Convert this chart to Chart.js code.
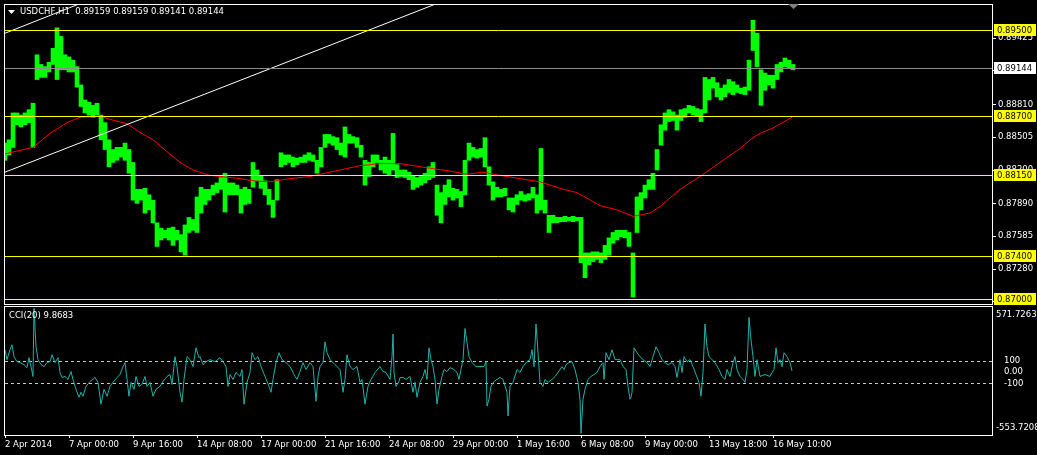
<!DOCTYPE html>
<html>
<head>
<meta charset="utf-8">
<script src="https://cdn.jsdelivr.net/npm/chart.js@4.4.0/dist/chart.umd.min.js"></script>
<style>
  html, body { margin: 0; padding: 0; background: #000; }
  #wrap { position: relative; width: 1037px; height: 455px; background: #000; overflow: hidden; }
  canvas { position: absolute; left: 0; }
  #price { top: 0; }
  #cci { top: 305px; }
</style>
</head>
<body>
<div id="wrap">
  <canvas id="price" width="1037" height="305"></canvas>
  <canvas id="cci" width="1037" height="150"></canvas>
</div>
<script>
// USDCHF H1 with MA and CCI(20) sub window, MetaTrader look
const symbolTitle = 'USDCHF,H1  0.89159 0.89159 0.89141 0.89144';
const cciTitle = 'CCI(20) 9.8683';

// hourly bars, one value pair read every 4 bars
const BAR_STEP = 4;
const priceHigh = [
  .8845,.8848,.8873,.8873,.8871,.8873,.8876,.8882,.8927,.8918,.8916,.8920,.8933,.8952,.8944,.8927,.8925,.8922,.8916,.8899,
  .8885,.8883,.8880,.8882,.8871,.8864,.8848,.8839,.8841,.8841,.8845,.8839,.8827,.8802,.8802,.8803,.8797,.8792,.8771,.8766,
  .8764,.8766,.8767,.8764,.8760,.8769,.8776,.8774,.8795,.8804,.8802,.8802,.8806,.8808,.8813,.8817,.8808,.8808,.8806,.8802,
  .8804,.8802,.8827,.8820,.8815,.8810,.8802,.8792,.8811,.8836,.8834,.8834,.8832,.8831,.8832,.8834,.8836,.8834,.8829,.8841,
  .8853,.8853,.8851,.8850,.8845,.8860,.8853,.8851,.8850,.8843,.8829,.8827,.8834,.8834,.8829,.8832,.8829,.8854,.8825,.8820,
  .8820,.8818,.8815,.8813,.8814,.8817,.8823,.8827,.8806,.8799,.8806,.8811,.8803,.8802,.8800,.8829,.8845,.8841,.8839,.8840,
  .8850,.8823,.8809,.8804,.8802,.8803,.8794,.8794,.8797,.8800,.8797,.8798,.8804,.8797,.8840,.8792,.8778,.8778,.8776,.8776,
  .8777,.8776,.8777,.8776,.8776,.8743,.8743,.8744,.8744,.8743,.8750,.8757,.8762,.8764,.8764,.8764,.8762,.8743,.8795,.8799,
  .8806,.8811,.8817,.8839,.8862,.8873,.8876,.8874,.8871,.8876,.8877,.8880,.8879,.8877,.8876,.8906,.8904,.8906,.8901,.8896,
  .8899,.8904,.8902,.8899,.8896,.8897,.8922,.8959,.8947,.8913,.8910,.8908,.8908,.8918,.8920,.8924,.8922,.8918
];
const priceLow = [
  .8829,.8834,.8841,.8862,.8860,.8862,.8864,.8841,.8904,.8906,.8906,.8911,.8918,.8904,.8913,.8913,.8911,.8911,.8897,.8879,
  .8873,.8871,.8869,.8871,.8848,.8839,.8823,.8827,.8829,.8832,.8829,.8817,.8792,.8789,.8792,.8780,.8783,.8771,.8749,.8755,
  .8757,.8755,.8750,.8755,.8744,.8741,.8762,.8764,.8762,.8780,.8788,.8792,.8797,.8799,.8802,.8781,.8797,.8797,.8797,.8780,
  .8788,.8789,.8804,.8810,.8803,.8797,.8788,.8776,.8792,.8823,.8825,.8827,.8823,.8825,.8827,.8827,.8829,.8828,.8817,.8823,
  .8841,.8845,.8843,.8839,.8834,.8832,.8845,.8845,.8841,.8832,.8806,.8814,.8823,.8827,.8820,.8817,.8815,.8820,.8813,.8814,
  .8813,.8811,.8802,.8804,.8806,.8808,.8811,.8813,.8778,.8771,.8788,.8795,.8792,.8794,.8786,.8797,.8829,.8832,.8831,.8832,
  .8823,.8806,.8792,.8795,.8795,.8796,.8783,.8781,.8788,.8792,.8791,.8792,.8794,.8780,.8783,.8780,.8762,.8771,.8771,.8772,
  .8772,.8773,.8772,.8773,.8734,.8720,.8732,.8735,.8737,.8734,.8737,.8741,.8752,.8755,.8758,.8757,.8749,.8702,.8762,.8783,
  .8794,.8802,.8802,.8820,.8843,.8857,.8865,.8866,.8857,.8866,.8869,.8873,.8871,.8870,.8865,.8873,.8885,.8896,.8888,.8885,
  .8888,.8892,.8890,.8892,.8891,.8890,.8894,.8931,.8916,.8880,.8894,.8899,.8896,.8904,.8911,.8916,.8915,.8913
];

// moving average (red)
const maBar = [0,28,45,62,75,95,105,122,135,148,162,175,188,205,235,248,265,285,305,315,335,355,375,395,415,445,462,478,495,515,
  535,555,572,595,612,628,645,655,675,695,715,735,748,755,768,787];
const maValue = [.8835,.8841,.8854,.8864,.8869,.8870,.8867,.8863,.8855,.8848,.8837,.8827,.8820,.8815,.8812,.8810,.8809,.8812,.8814,.8816,
  .8820,.8824,.8826,.8826,.8823,.8819,.8816,.8818,.8815,.8812,.8809,.8803,.8799,.8787,.8783,.8777,.8780,.8786,.8802,.8814,
  .8827,.8840,.8850,.8854,.8859,.8869];

// white channel lines: [bar, price] end points
const channelUpper = [[0, 0.8947], [90, 0.8980]];
const channelLower = [[0, 0.8818], [440, 0.89775]];

const levels = [0.8950, 0.8870, 0.8815, 0.8740, 0.8700];
const lastPrice = 0.89144;
const priceRange = [0.86956, 0.89732];
const priceTicks = [0.89425, 0.89120, 0.88810, 0.88505, 0.88200, 0.87890, 0.87585, 0.87280, 0.86975];
const barsOnScreen = 987;

const timeTicks = [0, 64, 128, 192, 256, 320, 384, 448, 512, 576, 640, 704, 768];
const timeLabels = ['2 Apr 2014', '7 Apr 00:00', '9 Apr 16:00', '14 Apr 08:00', '17 Apr 00:00', '21 Apr 16:00',
  '24 Apr 08:00', '29 Apr 00:00', '1 May 16:00', '6 May 08:00', '9 May 00:00', '13 May 18:00', '16 May 10:00'];

// CCI(20)
const cciBar = [
  0,2,5,7,9,12,15,19,22,24,26,28,29,31,33,36,39,42,45,47,50,53,55,57,60,63,66,68,71,74,76,78,81,85,90,93,96,99,102,105,
  108,112,115,118,120,122,124,126,129,131,134,137,140,142,145,148,151,155,158,162,165,167,170,172,175,177,179,182,185,188,191,194,
  195,198,201,205,210,215,218,221,223,225,228,231,235,237,239,242,245,247,250,253,256,260,264,266,268,271,274,277,281,285,
  290,292,295,298,301,305,308,311,313,315,318,320,322,325,330,335,338,340,342,345,348,352,355,357,360,363,366,370,375,378,381,385,387,388,389,391,394,
  395,398,401,405,408,410,412,415,418,420,422,424,426,428,430,432,434,437,439,442,445,449,452,454,456,458,460,462,464,467,
  471,475,479,481,482,484,486,489,492,495,498,502,503,505,508,512,515,518,522,525,527,529,531,533,535,538,540,543,547,550,
  553,557,559,561,564,567,570,573,575,576,578,580,583,586,589,592,
  595,598,599,601,604,607,610,615,618,621,623,625,626,627,629,632,635,638,642,645,648,651,654,657,660,663,667,670,672,675,
  677,679,682,685,688,691,694,696,698,700,702,704,707,710,714,717,720,722,725,728,730,732,735,738,740,742,744,746,748,750,
  752,755,760,765,767,769,771,773,775,777,779,782,785,787
];
const cciValue = [
  196,109,196,239,135,91,83,65,39,126,48,-39,560,222,109,65,48,83,91,152,83,126,-4,-48,-39,-65,4,-65,-152,-222,
  -178,-213,-126,-83,-48,-91,-283,-152,-213,-126,-91,-48,-22,48,83,-65,-213,-91,-152,-39,-126,-109,-39,-126,-91,-213,-152,-126,-83,-39,
  -22,-109,135,48,-178,-265,-65,135,109,48,213,126,
  135,65,91,109,91,126,91,48,-126,-22,-65,-4,-39,22,-283,-91,-4,170,109,135,48,-39,-126,-178,-65,83,170,109,83,48,
  -39,-65,4,83,22,83,48,-257,-39,48,83,265,170,109,65,22,-178,-65,152,48,22,48,-91,-65,-283,-126,-65,-4,48,4,-4,-65,135,335,-4,-126,-83,
  -48,-48,-65,-39,-178,-91,-222,-91,-39,22,-65,213,109,48,-65,-283,-152,-39,22,4,39,22,-4,-65,22,109,383,257,135,83,
  48,48,48,91,-300,-239,-126,-83,-65,-48,-65,-178,-387,-126,-91,22,-4,48,91,109,196,48,422,170,-91,-126,-65,-91,-65,-39,
  -4,48,22,65,83,91,22,-91,-239,-540,-239,-152,-65,-39,-22,-4,
  48,83,-65,170,109,196,109,109,48,22,-126,-239,-222,-178,213,170,135,109,83,48,135,222,170,109,83,65,83,48,-48,109,
  -4,135,91,109,48,-22,-91,-213,-4,422,222,135,109,83,22,-39,-65,22,-39,83,135,22,-39,-65,-91,22,480,283,135,-39,
  109,-39,-22,-39,-4,22,213,83,109,48,170,135,83,9.87
];
const cciLevels = [100, -100];
const cciTicks = [100, 0, -100];
const cciRange = [-553.7208, 571.7263];

const FONT = '8.5px "DejaVu Sans"';
Chart.defaults.font.family = 'DejaVu Sans';
Chart.defaults.font.size = 8.5;
Chart.defaults.color = '#ffffff';

// horizontal levels, snapped to whole pixels so they stay crisp
function drawLevel(chart, v, color, dash) {
  const { ctx, chartArea: a, scales: { y } } = chart;
  const yy = Math.round(y.getPixelForValue(v)) + 0.5;
  ctx.save();
  ctx.strokeStyle = color;
  ctx.lineWidth = 1;
  ctx.setLineDash(dash || []);
  ctx.beginPath();
  ctx.moveTo(a.left, yy);
  ctx.lineTo(a.right, yy);
  ctx.stroke();
  ctx.restore();
}

// price window decorations: frame, title, levels, level labels
const priceDecor = {
  id: 'priceDecor',
  afterDatasetsDraw(chart) {
    drawLevel(chart, lastPrice, '#8c8c8c');
    levels.forEach(v => drawLevel(chart, v, '#ffff00'));
  },
  afterDraw(chart) {
    const { ctx, chartArea: a, scales: { y } } = chart;
    ctx.save();
    ctx.strokeStyle = '#fff';
    ctx.lineWidth = 1;
    ctx.strokeRect(a.left - 0.5, a.top - 0.5, a.right - a.left + 1, a.bottom - a.top + 1);

    ctx.fillStyle = '#fff';
    ctx.beginPath();
    ctx.moveTo(8, 10); ctx.lineTo(15, 10); ctx.lineTo(11.5, 14); ctx.closePath();
    ctx.fill();
    ctx.font = FONT;
    ctx.textBaseline = 'middle';
    ctx.fillText(symbolTitle, 20, 12);

    // chart shift marker
    ctx.fillStyle = '#808080';
    ctx.beginPath();
    ctx.moveTo(788, 4); ctx.lineTo(799, 4); ctx.lineTo(793.5, 9); ctx.closePath();
    ctx.fill();

    const tag = (v, bg) => {
      const yy = Math.round(y.getPixelForValue(v));
      ctx.fillStyle = bg;
      ctx.fillRect(994, yy - 6, 42, 12);
      ctx.fillStyle = '#000';
      ctx.fillText(v.toFixed(5), 997, yy + 0.5);
    };
    levels.forEach(v => tag(v, '#ffff00'));
    tag(lastPrice, '#ffffff');
    ctx.restore();
  }
};

const cciDecor = {
  id: 'cciDecor',
  beforeDatasetsDraw(chart) {
    cciLevels.forEach(v => drawLevel(chart, v, '#c8c8c8', [3, 3]));
  },
  afterDraw(chart) {
    const { ctx, chartArea: a, scales: { y } } = chart;
    ctx.save();
    ctx.strokeStyle = '#fff';
    ctx.lineWidth = 1;
    ctx.strokeRect(a.left - 0.5, a.top - 0.5, a.right - a.left + 1, a.bottom - a.top + 1);
    ctx.font = FONT;
    ctx.textBaseline = 'middle';
    ctx.fillStyle = '#fff';
    ctx.fillText(cciTitle, 9, 11);
    ctx.fillText(cciRange[1].toFixed(4), 996, y.getPixelForValue(cciRange[1]) + 8);
    ctx.fillText(cciRange[0].toFixed(4), 996, y.getPixelForValue(cciRange[0]) - 7);
    ctx.restore();
  }
};

const priceBars = priceHigh.map((h, i) => ({ x: i * BAR_STEP, y: [priceLow[i], h] }));

new Chart(document.getElementById('price').getContext('2d'), {
  type: 'line',
  data: {
    datasets: [
      {
        type: 'bar', data: priceBars, backgroundColor: '#00ff00', borderWidth: 0,
        barThickness: 4, grouped: false, order: 10
      },
      {
        type: 'line', data: maBar.map((b, i) => ({ x: b, y: maValue[i] })),
        borderColor: '#ff0000', borderWidth: 1, pointRadius: 0, order: 5
      },
      {
        type: 'line', data: channelUpper.map(p => ({ x: p[0], y: p[1] })),
        borderColor: '#ffffff', borderWidth: 1, pointRadius: 0, order: 3
      },
      {
        type: 'line', data: channelLower.map(p => ({ x: p[0], y: p[1] })),
        borderColor: '#ffffff', borderWidth: 1, pointRadius: 0, order: 3
      }
    ]
  },
  options: {
    responsive: false,
    animation: false,
    devicePixelRatio: 1,
    layout: { padding: { left: 5, top: 5, right: 0, bottom: 1 } },
    plugins: { legend: { display: false }, tooltip: { enabled: false } },
    scales: {
      x: { type: 'linear', min: 0, max: barsOnScreen, display: false, offset: false },
      y: {
        position: 'right', min: priceRange[0], max: priceRange[1], bounds: 'data',
        afterFit(s) { s.width = 45; s.paddingTop = 0; s.paddingBottom = 0; },
        afterBuildTicks(s) { s.ticks = priceTicks.map(v => ({ value: v })); },
        grid: { drawOnChartArea: false, tickLength: 4, color: '#ffffff' },
        border: { display: false },
        ticks: { color: '#ffffff', padding: 2, autoSkip: false, callback: v => v.toFixed(5) }
      }
    }
  },
  plugins: [priceDecor]
});

new Chart(document.getElementById('cci').getContext('2d'), {
  type: 'line',
  data: {
    datasets: [
      {
        data: cciBar.map((b, i) => ({ x: b, y: cciValue[i] })),
        borderColor: '#20b2aa', borderWidth: 1, pointRadius: 0
      }
    ]
  },
  options: {
    responsive: false,
    animation: false,
    devicePixelRatio: 1,
    layout: { padding: { left: 5, top: 2, right: 0, bottom: 0 } },
    plugins: { legend: { display: false }, tooltip: { enabled: false } },
    scales: {
      x: {
        type: 'linear', min: 0, max: barsOnScreen, offset: false, bounds: 'data',
        afterFit(s) { s.height = 20; s.paddingLeft = 0; s.paddingRight = 0; },
        afterBuildTicks(s) { s.ticks = timeTicks.map(v => ({ value: v })); },
        grid: { drawOnChartArea: false, tickLength: 3, color: '#ffffff' },
        border: { display: false },
        ticks: {
          color: '#ffffff', align: 'start', padding: 2, maxRotation: 0, autoSkip: false,
          callback: (v, i) => timeLabels[i]
        }
      },
      y: {
        position: 'right', min: cciRange[0], max: cciRange[1], bounds: 'data',
        afterFit(s) { s.width = 45; s.paddingTop = 0; s.paddingBottom = 0; },
        afterBuildTicks(s) { s.ticks = cciTicks.map(v => ({ value: v })); },
        grid: { display: false },
        border: { display: false },
        ticks: { color: '#ffffff', padding: 4, autoSkip: false, callback: v => (v === 0 ? '0.00' : String(v)) }
      }
    }
  },
  plugins: [cciDecor]
});
</script>
</body>
</html>
